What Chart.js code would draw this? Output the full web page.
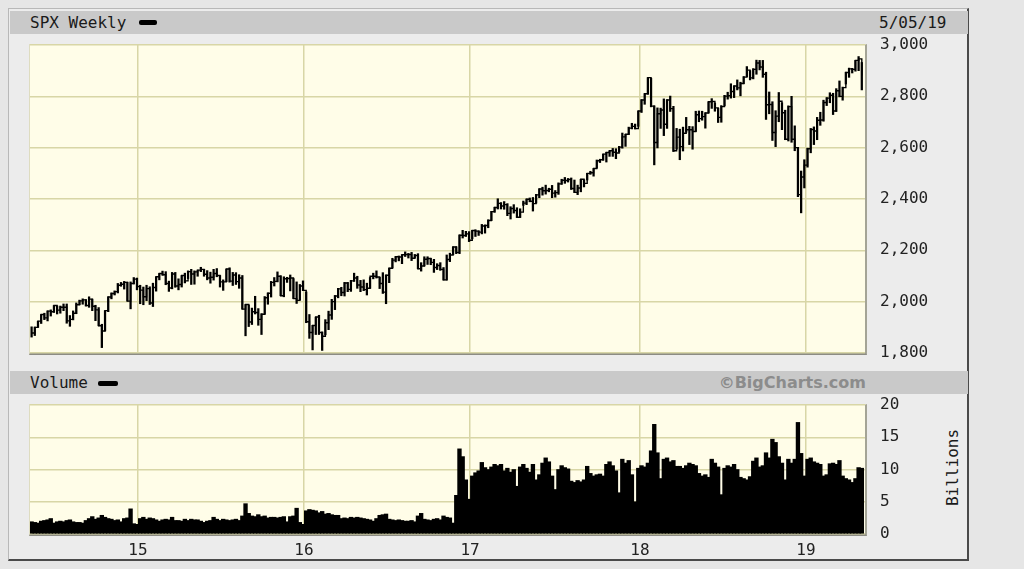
<!DOCTYPE html>
<html>
<head>
<meta charset="utf-8">
<script src="https://cdn.jsdelivr.net/npm/chart.js@4.4.1/dist/chart.umd.min.js"></script>
<style>
  html, body { margin:0; padding:0; background:#e6e6e6; width:1024px; height:569px; overflow:hidden; }
  .abs { position:absolute; }
  #frame { left:8px; top:8px; width:961px; height:553px; background:#ececec;
           border-top:1px solid #b8b8b8; border-left:1px solid #b8b8b8;
           border-right:2px solid #4a4a4a; border-bottom:2px solid #4a4a4a; box-sizing:border-box; }
  .band { left:10px; width:958px; height:23px; background:#c9c9c9; }
  .mono { font-family:"DejaVu Sans Mono", monospace; font-size:16px; color:#1a1a1a; line-height:23px; white-space:nowrap; }
  .swatch { background:#000; height:5px; border-radius:2px; }
  .plotbox { background:#fffde8; border-top:1px solid #dedcc0; border-left:1px solid #dedcc0;
             border-right:2px solid #a4a496; border-bottom:2px solid #8c8c84; }
  canvas { position:absolute; }
</style>
</head>
<body>
<div id="frame" class="abs"></div>
<div class="abs band" style="top:11px;"></div>
<div class="abs mono" style="left:30px; top:11px;">SPX Weekly</div>
<div class="abs swatch" style="left:139px; top:20px; width:18px;"></div>
<div class="abs mono" style="left:879px; top:11px;">5/05/19</div>

<div class="abs band" style="top:371px;"></div>
<div class="abs mono" style="left:30px; top:371px;">Volume</div>
<div class="abs swatch" style="left:98px; top:381px; width:20px;"></div>
<div class="abs" style="right:158px; top:371px; line-height:23px; font-family:'DejaVu Sans', sans-serif; font-weight:bold; font-size:16px; color:#8c8c8c;">©BigCharts.com</div>

<div class="abs plotbox" style="left:29px; top:44px; width:835px; height:308px;"></div>
<div class="abs plotbox" style="left:29px; top:404px; width:835px; height:129px;"></div>

<div class="abs mono" style="left:912px; top:456px; width:80px; text-align:center; transform:rotate(-90deg); transform-origin:50% 50%;">Billions</div>

<canvas id="price" width="960" height="340" style="left:20px; top:30px;"></canvas>
<canvas id="volume" width="960" height="175" style="left:20px; top:390px;"></canvas>

<script>
// ---- Data (weekly, May 12 2014 .. May 6 2019) ----
const yearLabels = ['15', '16', '17', '18', '19'];
const yearTickWeeks = [33.3, 85.3, 137.3, 190.5, 242.5];

const priceHigh = [
  1902,1901,1924,1950,1955,1964,1968,1985,1983,1983,1991,1991,1946,1964,1995,2006,2011,2008,2019,2010,1986,1977,1912,1965,2019,2034,2042,2071,2075,2079,2076,2077,2094,2092,
  2064,2057,2064,2058,2072,2097,2110,2119,2117,2080,2114,2114,2089,2102,2111,2120,2126,2120,2123,2134,2126,2121,2115,2126,2129,2102,2085,2127,2132,2114,2113,2105,2102,1989,1987,1975,2021,1973,1953,2020,2034,2079,2094,2116,2101,2097,2095,2104,2090,2077,2067,2081,
  2038,1950,1908,1940,1947,1882,1930,1963,2009,2024,2052,2056,2075,2075,2083,2111,2099,2083,2085,2072,2094,2111,2120,2095,2113,2104,2131,2169,2176,2178,2183,2194,2188,2192,2184,2187,2152,2175,2175,2169,2165,2148,2152,2133,2182,2189,2214,2214,2260,2278,2274,2273,
  2278,2280,2276,2301,2299,2319,2352,2368,2401,2386,2390,2382,2370,2378,2366,2362,2392,2400,2404,2406,2418,2440,2446,2454,2442,2453,2433,2463,2477,2484,2480,2482,2474,2454,2477,2475,2500,2508,2519,2552,2555,2575,2582,2588,2597,2596,2605,2657,2652,2680,2695,2692,
  2743,2787,2811,2873,2870,2763,2755,2754,2790,2787,2801,2761,2675,2672,2680,2718,2683,2682,2742,2743,2742,2736,2779,2791,2774,2754,2764,2804,2816,2849,2841,2864,2855,2877,2916,2900,2908,2941,2940,2940,2894,2817,2779,2744,2815,2775,2746,2763,2800,2685,2601,2509,2553,
  2598,2675,2681,2718,2738,2785,2795,2814,2812,2830,2860,2836,2894,2910,2909,2940,2955,2932
];
const priceLow = [
  1862,1868,1900,1915,1930,1925,1944,1958,1952,1955,1965,1916,1904,1929,1953,1988,1990,1983,1978,1965,1926,1906,1821,1886,1961,2011,2026,2034,2060,2049,2002,1972,2069,2046,
  1992,1988,2004,1989,1981,2041,2085,2103,2066,2040,2050,2056,2046,2057,2073,2090,2067,2068,2099,2117,2099,2085,2072,2084,2097,2057,2044,2078,2076,2063,2067,2052,1971,1867,1903,1911,1952,1908,1872,1951,1990,2018,2061,2077,2023,2019,2075,2042,2012,1993,2006,2043,
  1918,1857,1812,1872,1872,1810,1871,1891,1931,1969,2015,2023,2022,2039,2040,2079,2052,2039,2043,2026,2052,2089,2092,2051,2032,1992,2074,2131,2155,2159,2148,2176,2170,2160,2170,2128,2119,2139,2145,2144,2114,2125,2122,2084,2084,2156,2183,2187,2187,2248,2254,2234,
  2245,2254,2258,2264,2267,2288,2316,2348,2361,2361,2360,2335,2322,2345,2328,2328,2375,2378,2389,2353,2384,2405,2415,2419,2428,2405,2407,2418,2457,2461,2466,2437,2425,2417,2428,2447,2474,2496,2489,2520,2542,2551,2544,2566,2566,2557,2583,2598,2605,2651,2673,2673,
  2683,2737,2769,2808,2759,2533,2599,2675,2647,2675,2741,2585,2594,2553,2587,2660,2612,2594,2663,2701,2707,2676,2735,2753,2742,2698,2699,2763,2789,2793,2795,2825,2802,2849,2876,2864,2868,2886,2903,2874,2710,2732,2628,2604,2701,2670,2631,2626,2621,2588,2409,2346,2443,
  2524,2580,2612,2631,2687,2703,2764,2775,2729,2741,2798,2785,2848,2874,2891,2898,2900,2825
];
const priceClose = [
  1878,1900,1924,1950,1937,1963,1961,1985,1967,1978,1978,1925,1931,1955,1988,2003,2007,1985,2010,1982,1968,1906,1886,1965,2018,2032,2039,2064,2068,2075,2002,2071,2088,2059,
  2045,2019,2051,1995,2055,2097,2110,2105,2071,2053,2108,2061,2067,2102,2081,2117,2108,2116,2123,2126,2107,2092,2095,2110,2102,2077,2077,2127,2080,2104,2078,2092,1971,1989,1921,1961,1958,1931,1951,2015,2033,2075,2079,2099,2023,2089,2090,2092,2012,2005,2061,2044,
  1922,1880,1907,1940,1880,1865,1918,1948,2000,2022,2050,2036,2073,2048,2081,2092,2065,2057,2047,2052,2099,2099,2096,2071,2037,2103,2130,2162,2175,2174,2183,2184,2184,2169,2180,2128,2139,2165,2168,2153,2133,2141,2126,2085,2164,2182,2213,2192,2259,2258,2264,2239,
  2277,2275,2271,2295,2297,2316,2351,2367,2383,2373,2378,2344,2363,2355,2329,2349,2384,2399,2391,2382,2416,2439,2432,2433,2438,2423,2425,2459,2473,2472,2476,2441,2426,2443,2477,2461,2500,2502,2519,2549,2553,2575,2581,2588,2582,2579,2602,2642,2652,2676,2683,2674,
  2743,2786,2810,2873,2762,2620,2732,2747,2691,2786,2752,2588,2641,2604,2656,2670,2670,2663,2728,2713,2721,2735,2779,2780,2755,2718,2760,2801,2802,2819,2840,2833,2850,2875,2902,2872,2905,2930,2914,2886,2767,2768,2659,2723,2781,2736,2633,2760,2633,2600,2417,2486,2532,
  2596,2671,2665,2707,2708,2776,2793,2804,2743,2822,2800,2834,2893,2907,2905,2940,2946,2881
];
const volumeBillions = [
  1.9,1.8,1.7,2.0,2.1,2.2,2.4,1.7,1.9,2.0,1.9,2.1,2.2,1.9,1.8,1.8,1.7,2.1,2.4,2.7,2.3,2.5,2.9,2.6,2.4,2.3,2.1,2.2,1.9,2.4,2.5,3.9,1.6,1.5,
  2.4,2.6,2.3,2.5,2.4,2.2,2.0,2.2,2.3,2.2,2.6,2.1,2.1,2.0,2.3,2.1,2.3,2.2,2.2,2.0,1.8,2.0,2.1,2.6,2.3,2.1,2.3,2.2,2.1,2.2,2.3,2.1,2.8,4.7,3.2,2.8,2.7,3.0,2.7,2.8,2.5,2.6,2.6,2.5,2.6,2.7,1.9,2.7,2.8,4.0,1.8,1.5,
  3.6,3.8,3.7,3.6,3.3,3.5,3.1,3.2,3.0,2.9,2.9,2.4,2.5,2.4,2.6,2.5,2.6,2.5,2.4,2.3,2.2,2.0,2.4,2.9,3.0,3.1,2.3,2.2,2.1,2.2,2.1,2.0,2.0,2.1,1.9,2.8,3.2,2.3,2.2,2.1,2.3,2.4,2.2,2.8,2.6,2.5,1.7,6.0,13.2,12.0,8.4,5.4,
  9.0,9.5,9.8,11.1,10.3,10.0,10.4,10.8,10.6,10.8,9.8,10.2,9.6,10.0,7.4,10.4,10.8,10.2,9.6,10.8,8.4,9.2,11.0,11.8,11.2,9.0,6.9,10.0,10.6,10.3,10.1,8.2,8.0,8.3,8.1,8.4,10.5,9.4,9.0,9.2,9.3,9.0,10.8,11.2,10.6,9.8,6.4,11.6,11.0,11.4,9.2,5.0,
  10.2,10.6,10.4,11.0,12.9,17.0,12.6,8.6,11.6,11.8,11.2,11.4,10.5,10.5,10.2,10.6,11.0,10.8,10.6,9.4,9.0,9.2,8.8,11.6,11.0,10.4,6.1,10.2,10.6,10.4,10.8,10.0,8.8,8.6,8.4,8.9,11.3,11.8,10.4,10.6,12.6,11.8,14.7,14.2,12.0,11.0,8.4,11.6,11.0,11.6,17.3,12.5,9.0,
  11.6,11.8,11.2,11.0,10.8,9.0,9.2,10.9,11.0,10.8,11.4,9.0,8.6,8.4,8.0,8.6,10.3,10.2
];

// ---- Chart setup ----
Chart.defaults.font.family = '"DejaVu Sans Mono", monospace';
Chart.defaults.font.size = 16;
Chart.defaults.color = '#222';

const GRID = '#d8d6a6';
const X_MIN = -0.5, X_MAX = 261;

function yearTicks(scale) {
  scale.ticks = yearTickWeeks.map(v => ({ value: v }));
}

const ohlcRange = priceHigh.map((h, i) => ({ x: i, y: [priceLow[i], h] }));
const closeLine = priceClose.map((c, i) => ({ x: i, y: c }));
const volPoints = volumeBillions.map((v, i) => ({ x: i, y: v }));

function yAxis(min, max, step, fmt) {
  return {
    position: 'right', min: min, max: max,
    afterFit: s => { s.width = 115; },
    ticks: { stepSize: step, padding: 0, color: '#222', callback: fmt },
    grid: { color: GRID, lineWidth: 1.5, drawTicks: true, tickLength: 15, tickColor: 'rgba(0,0,0,0)' },
    border: { display: false }
  };
}

new Chart(document.getElementById('price'), {
  data: {
    datasets: [
      { type: 'bar', data: ohlcRange, backgroundColor: '#000', barThickness: 1.6, borderWidth: 0 },
      { type: 'line', data: closeLine, borderColor: '#000', borderWidth: 1.4, stepped: true, pointRadius: 0, fill: false }
    ]
  },
  options: {
    responsive: false, animation: false, devicePixelRatio: 1,
    layout: { padding: { left: 10, top: 15, right: 0, bottom: 0 } },
    plugins: { legend: { display: false }, tooltip: { enabled: false } },
    scales: {
      x: {
        type: 'linear', min: X_MIN, max: X_MAX, offset: false,
        afterBuildTicks: yearTicks,
        afterFit: s => { s.height = 17; },
        ticks: { display: false },
        grid: { color: GRID, lineWidth: 1.5, drawTicks: false, offset: false },
        border: { display: false }
      },
      y: yAxis(1800, 3000, 200, v => v.toLocaleString('en-US'))
    }
  }
});

new Chart(document.getElementById('volume'), {
  type: 'bar',
  data: {
    datasets: [
      { data: volPoints, backgroundColor: '#000', barThickness: 3.7, borderWidth: 0 }
    ]
  },
  options: {
    responsive: false, animation: false, devicePixelRatio: 1,
    layout: { padding: { left: 10, top: 15, right: 0, bottom: 0 } },
    plugins: { legend: { display: false }, tooltip: { enabled: false } },
    scales: {
      x: {
        type: 'linear', min: X_MIN, max: X_MAX, offset: false,
        afterBuildTicks: yearTicks,
        afterFit: s => { s.height = 31; },
        ticks: { padding: 7, autoSkip: false, maxRotation: 0, color: '#222',
                 callback: (v, i) => yearLabels[i] },
        grid: { color: GRID, lineWidth: 1.5, drawTicks: false, offset: false },
        border: { display: false }
      },
      y: yAxis(0, 20, 5, v => v)
    }
  }
});
</script>
</body>
</html>
